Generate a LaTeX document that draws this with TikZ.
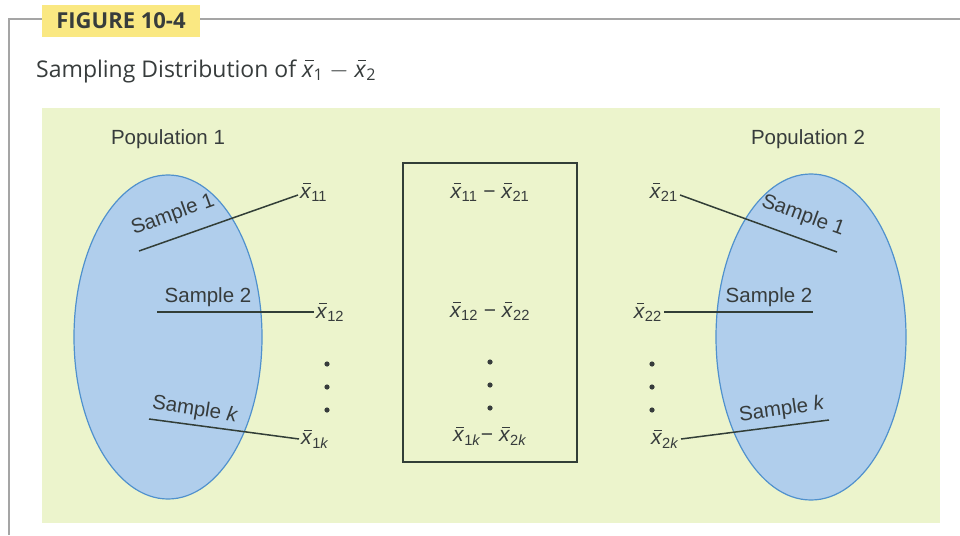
\documentclass[tikz,border=0pt]{standalone}
\usepackage{fontspec}
\setmainfont{Liberation Sans}
\newfontfamily\titlefont{Open Sans}
\definecolor{bggreen}{RGB}{236,244,204}
\definecolor{popblue}{RGB}{176,206,236}
\definecolor{popedge}{RGB}{80,145,205}
\definecolor{figyellow}{RGB}{250,232,130}
\definecolor{framegray}{RGB}{165,165,165}
\definecolor{txt}{RGB}{55,60,60}
\definecolor{lin}{RGB}{50,62,55}
\newcommand\xbr[1]{\makebox[0pt][l]{\hspace{0.14em}\raisebox{0.68em}{\rule{0.36em}{0.055em}}}\textit{x}\textsubscript{#1}}
\tikzset{
  lbl/.style={inner sep=1pt, text=txt, font=\fontsize{20.5}{22}\selectfont},
  xl/.style={inner sep=2pt, text=txt, font=\fontsize{21}{23}\selectfont},
  conn/.style={draw=lin, line width=1.5pt},
  dotmark/.style={fill=txt},
  pop/.style={fill=popblue, draw=popedge, line width=1.2pt}
}
\begin{document}
\begin{tikzpicture}[x=1pt,y=-1pt]
\useasboundingbox (0,0) rectangle (960,535);
\fill[white] (0,0) rectangle (960,535);
% frame
\draw[framegray, line width=2pt] (9,535) -- (9,19) -- (42,19);
\draw[framegray, line width=2pt] (200,19) -- (960,19);
\node (fig) [fill=figyellow, minimum width=158pt, minimum height=32pt, inner sep=0pt,
  font=\titlefont\bfseries\fontsize{22}{24}\selectfont, text=txt] at (121,21) {FIGURE 10-4};
\node (title) [anchor=west, inner sep=0pt, text=txt, font=\titlefont\fontsize{23}{26}\selectfont]
  at (36,71) {Sampling Distribution of \xbr{1} $-$ \xbr{2}};
% background
\fill[bggreen] (42,108) rectangle (940,523);
% populations
\filldraw[pop] (168,337) ellipse [x radius=94, y radius=162];
\filldraw[pop] (811,337) ellipse [x radius=95, y radius=163];
\node (p1) [lbl] at (168,139) {Population 1};
\node (p2) [lbl] at (808,139) {Population 2};
% middle box
\node (mid) [draw=lin, line width=1.3pt, minimum width=174pt, minimum height=299pt, inner sep=0pt] at (490,312.5) {};
\node (m1) [xl] at (490,192) {\xbr{11} − \xbr{21}};
\node (m2) [xl] at (490,311) {\xbr{12} − \xbr{22}};
\node (mk) [xl] at (490,436) {\xbr{1\textit{k}}− \xbr{2\textit{k}}};
% left labels
\node (s11) [lbl, rotate=20] at (173,215) {Sample 1};
\node (s12) [lbl] at (208,297) {Sample 2};
\node (s1k) [lbl, rotate=-9] at (195,410) {Sample \textit{k}};
\node (x11) [xl, anchor=west] at (298,192) {\xbr{11}};
\node (x12) [xl, anchor=west] at (314,312) {\xbr{12}};
\node (x1k) [xl, anchor=west] at (299,439) {\xbr{1\textit{k}}};
\coordinate (a1) at (139,251);
\coordinate (a2) at (157,312);
\coordinate (ak) at (149,419);
\draw[conn] (a1) -- ([yshift=-3pt]x11.west);
\draw[conn] (a2) -- (x12.west |- a2);
\draw[conn] (ak) -- (x1k.west);
% right labels
\node (s21) [lbl, rotate=-20] at (803,216) {Sample 1};
\node (s22) [lbl] at (769,297) {Sample 2};
\node (s2k) [lbl, rotate=8] at (782,410) {Sample \textit{k}};
\node (x21) [xl, anchor=east] at (680,192) {\xbr{21}};
\node (x22) [xl, anchor=east] at (664,312) {\xbr{22}};
\node (x2k) [xl, anchor=east] at (681,439) {\xbr{2\textit{k}}};
\coordinate (b1) at (837,252);
\coordinate (b2) at (813,312);
\coordinate (bk) at (829,420);
\draw[conn] ([yshift=-3pt]x21.east) -- (b1);
\draw[conn] (x22.east |- b2) -- (b2);
\draw[conn] (x2k.east) -- (bk);
% dots
\foreach \yy in {364,387,410} {
  \fill[dotmark] (327,\yy) circle (2.6);
  \fill[dotmark] (490,\yy-2) circle (2.6);
  \fill[dotmark] (652,\yy) circle (2.6);
}
\end{tikzpicture}
\end{document}
